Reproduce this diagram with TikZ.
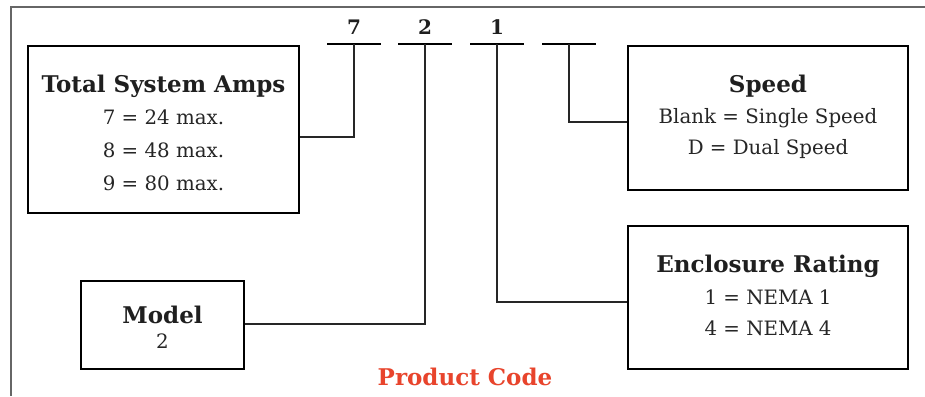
\documentclass[tikz,border=0pt]{standalone}
\usepackage{fontspec}
\setmainfont{DejaVu Serif}
\begin{document}
\begin{tikzpicture}[x=1pt,y=-1pt,
  box/.style={draw=black,line width=2pt,fill=white,inner sep=0pt},
  conn/.style={draw=black!85,line width=1.5pt},
  frame/.style={draw=black!60,line width=1.4pt},
  ttl/.style={font=\bfseries\fontsize{23}{26}\selectfont,text=black!88,inner sep=0pt,anchor=base},
  body/.style={font=\fontsize{19.8}{23}\selectfont,text=black!85,inner sep=0pt,anchor=base},
  digit/.style={font=\bfseries\fontsize{20}{23}\selectfont,text=black!88,inner sep=0pt,anchor=base},
  uline/.style={draw=black,line width=2pt}]
\useasboundingbox (0,0) rectangle (925,396);
\fill[white] (0,0) rectangle (925,396);
% outer frame
\draw[frame] (11,396) -- (11,7) -- (925,7);
% boxes
\node[box,minimum width=271pt,minimum height=167pt] (amps) at (163.5,129.5) {};
\node[box,minimum width=280pt,minimum height=144pt] (speed) at (768,118) {};
\node[box,minimum width=280pt,minimum height=143pt] (encl) at (768,297.5) {};
\node[box,minimum width=163pt,minimum height=88pt] (model) at (162.5,325) {};
% code positions
\coordinate (u1) at (354,44);
\coordinate (u2) at (425,44);
\coordinate (u3) at (497,44);
\coordinate (u4) at (569,44);
\foreach \u in {u1,u2,u3,u4}{\draw[uline] ([xshift=-27pt]\u) -- ([xshift=27pt]\u);}
\node[digit] (c1) at (354,35) {7};
\node[digit] (c2) at (425,35) {2};
\node[digit] (c3) at (497,35) {1};
% connectors
\draw[conn] (u1) |- (amps.east |- 0,137);
\draw[conn] (u2) |- (model.east |- 0,324);
\draw[conn] (u3) |- (encl.west |- 0,302);
\draw[conn] (u4) |- (speed.west |- 0,122);
% texts
\node[ttl] (t1) at (163.5,92) {Total System Amps};
\node[body] (a1) at (163.5,124) {7 = 24 max.};
\node[body] (a2) at (163.5,157) {8 = 48 max.};
\node[body] (a3) at (163.5,190) {9 = 80 max.};
\node[ttl] (t2) at (768,92) {Speed};
\node[body] (s1) at (768,123) {Blank = Single Speed};
\node[body] (s2) at (768,154) {D = Dual Speed};
\node[ttl] (t3) at (768,272) {Enclosure Rating};
\node[body] (e1) at (768,304) {1 = NEMA 1};
\node[body] (e2) at (768,335) {4 = NEMA 4};
\node[ttl] (t4) at (162.5,323) {Model};
\node[body] (m1) at (162.5,348) {2};
\node[ttl,text={rgb,255:red,232;green,68;blue,44}] (pc) at (465,385) {Product Code};
\end{tikzpicture}
\end{document}
